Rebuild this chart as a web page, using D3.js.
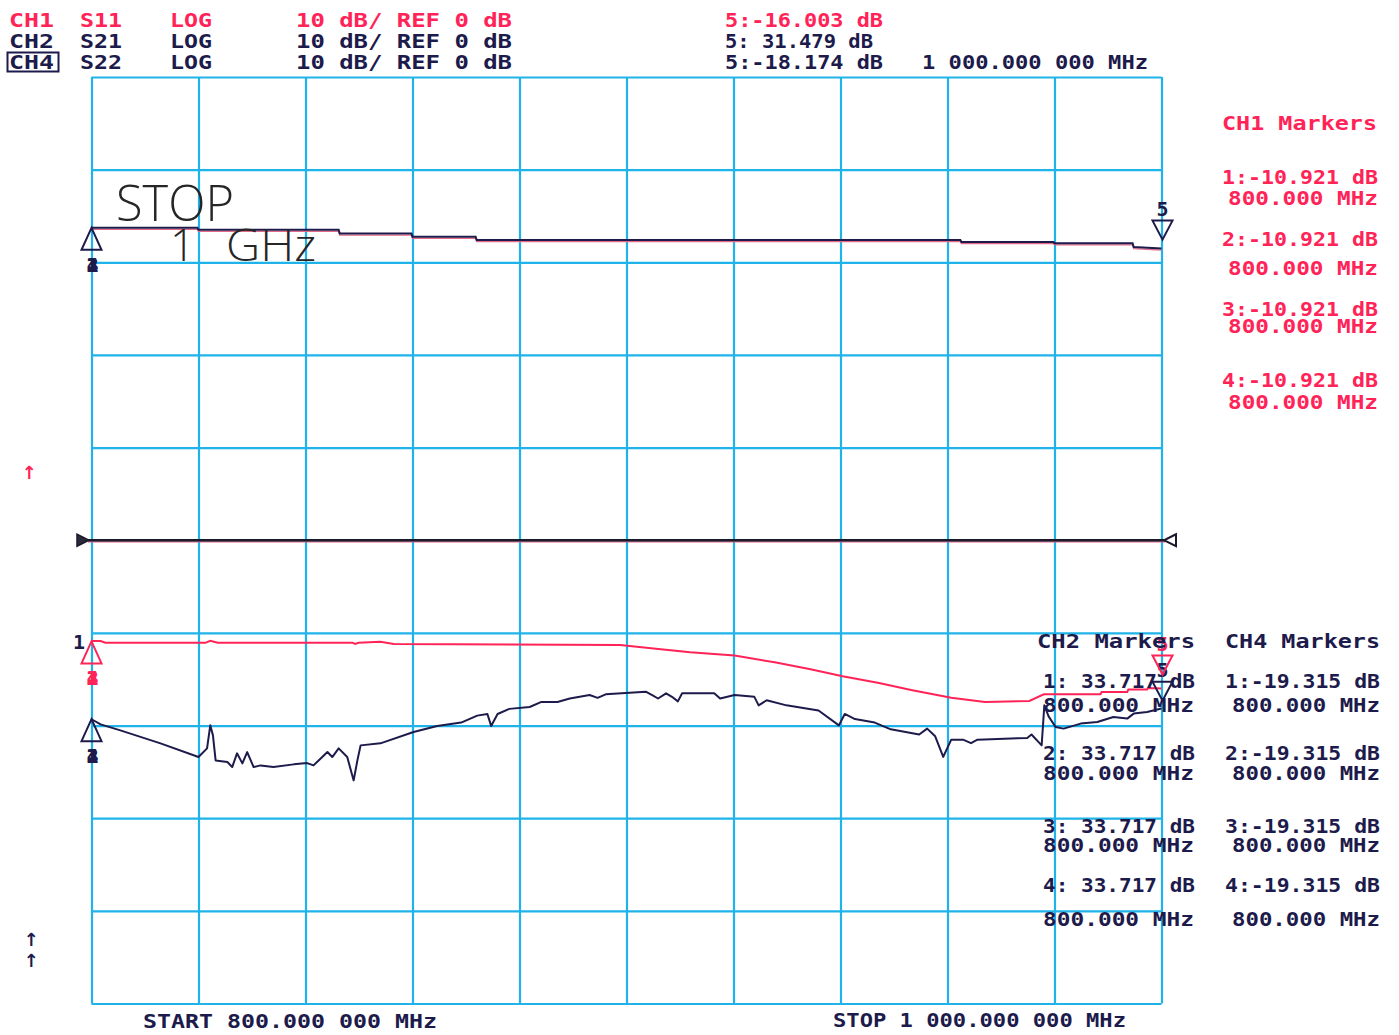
<!DOCTYPE html>
<html><head><meta charset="utf-8">
<script src="https://cdn.jsdelivr.net/npm/d3@7"></script>
<style>
html,body{margin:0;padding:0;background:#fff;}
svg{display:block;}
.mono{font-family:"DejaVu Sans Mono",monospace;font-weight:bold;font-size:20px;}
</style></head><body>
<svg id="c" width="1399" height="1035"></svg>
<script>
// ---------------- data ----------------
const freqRange = [800, 1000];               // MHz, START / STOP
const dbRange = [-50, 50];                   // 10 dB/div, REF 0 dB at centre
const xTickValues = [800, 820, 840, 860, 880, 900, 920, 940, 960, 980, 1000];
const yTickValues = [-50, -40, -30, -20, -10, 0, 10, 20, 30, 40, 50];

const channels = ["CH1", "CH2", "CH4"];
const params = ["S11", "S21", "S22"];
const formats = ["LOG", "LOG", "LOG"];
const scalesDb = [10, 10, 10];
const refsDb = [0, 0, 0];

// CH1 S11
const s11Freq = [800, 801.7, 802.6, 821.3, 822.2, 823.6, 848.8, 849.3, 849.9, 854.0, 856.5, 898.8, 905.5, 911.9, 920.2, 927.7, 934.4, 940.4, 947.2, 953.2, 960.7, 967.0, 975.3, 978.0, 988.6, 988.8, 993.6, 993.8, 997.3, 997.5, 1000];
const s11Db = [-10.88, -10.88, -11.07, -11.07, -10.85, -11.07, -11.07, -11.18, -11.07, -10.96, -11.2, -11.3, -11.71, -12.08, -12.45, -13.17, -13.93, -14.68, -15.41, -16.16, -17.01, -17.45, -17.35, -16.63, -16.63, -16.38, -16.38, -16.12, -16.12, -15.95, -16.0];
// CH2 S21
const s21Freq = [800, 819.8, 820.0, 846.2, 846.4, 859.8, 860.0, 871.8, 872.0, 962.4, 962.6, 979.8, 980.0, 994.6, 994.8, 1000];
const s21Db = [33.72, 33.72, 33.5, 33.5, 33.1, 33.1, 32.75, 32.75, 32.4, 32.4, 32.2, 32.2, 32.05, 32.05, 31.65, 31.48];
// CH4 S22
const s22Freq = [800.0, 801.7, 805.4, 812.9, 820.0, 821.6, 822.2, 822.7, 823.2, 825.4, 826.3, 827.2, 828.2, 829.1, 830.3, 831.6, 834.0, 837.8, 840.3, 841.5, 844.1, 845.0, 846.2, 847.8, 849.0, 849.7, 850.3, 854.0, 860.2, 864.6, 869.1, 872.1, 874.0, 874.7, 875.9, 878.1, 881.9, 884.1, 887.1, 889.4, 893.1, 894.6, 896.1, 903.6, 904.8, 905.9, 907.4, 908.5, 909.6, 910.4, 916.4, 917.5, 920.2, 923.9, 924.7, 926.2, 929.9, 935.9, 939.7, 940.8, 942.7, 946.4, 949.4, 954.7, 956.2, 957.7, 959.2, 960.7, 962.9, 964.4, 965.6, 974.9, 975.7, 977.6, 978.1, 978.9, 980.2, 981.7, 984.9, 988.0, 991.0, 993.6, 994.8, 997.3, 1000];
const s22Db = [-19.32, -19.87, -20.52, -21.92, -23.40, -22.46, -19.98, -21.06, -23.76, -23.94, -24.48, -23.00, -24.08, -22.86, -24.48, -24.30, -24.48, -24.19, -24.05, -24.30, -22.86, -23.40, -22.46, -23.40, -25.92, -23.76, -22.14, -21.92, -20.70, -20.04, -19.68, -18.93, -18.75, -20.04, -18.75, -18.20, -18.00, -17.45, -17.45, -17.08, -16.71, -17.01, -16.63, -16.34, -16.71, -17.08, -16.52, -16.90, -17.39, -16.52, -16.52, -17.08, -16.71, -16.90, -17.82, -17.27, -17.82, -18.38, -19.98, -18.75, -19.30, -19.68, -20.41, -20.97, -20.33, -21.16, -23.38, -21.52, -21.52, -21.90, -21.52, -21.34, -20.97, -22.14, -17.82, -19.01, -20.16, -20.33, -19.79, -19.62, -19.08, -19.25, -18.71, -18.54, -18.17];

// markers
const markerFreq = [800, 800, 800, 800];
const ch1MarkerDb = [-10.921, -10.921, -10.921, -10.921];
const ch2MarkerDb = [33.717, 33.717, 33.717, 33.717];
const ch4MarkerDb = [-19.315, -19.315, -19.315, -19.315];
const marker5Freq = 1000;
const marker5Db = [-16.003, 31.479, -18.174];
const stopLabel = ["STOP", "1", "GHz"];

// ---------------- drawing ----------------
const RED = "#ff2357", DARK = "#1d1b4b", CYAN = "#1fb3ea";
const svg = d3.select("#c");
const x = d3.scaleLinear().domain(freqRange).range([91.5, 1161.5]);
const y = d3.scaleLinear().domain(dbRange).range([1003.5, 77]);

// grid
const gx = svg.append("g").attr("transform", `translate(0,${y(dbRange[1])})`)
  .call(d3.axisBottom(x).tickValues(xTickValues).tickSize(y(dbRange[0]) - y(dbRange[1])).tickFormat(""));
const gy = svg.append("g").attr("transform", `translate(${x(freqRange[0])},0)`)
  .call(d3.axisRight(y).tickValues(yTickValues).tickSize(x(freqRange[1]) - x(freqRange[0])).tickFormat(""));
[gx, gy].forEach(g => {
  g.select(".domain").remove();
  g.selectAll("line").attr("stroke", CYAN).attr("stroke-width", 2.2);
});

const line = d3.line().x(d => x(d[0])).y(d => y(d[1]));
const zip = (f, v) => f.map((d, i) => [d, v[i]]);

// reference line at REF position
const y0 = y(refsDb[0]);
svg.append("line").attr("x1", 88).attr("x2", 1165).attr("y1", y0 + 1.6).attr("y2", y0 + 1.6).attr("stroke", "#e0607a").attr("stroke-width", 1.4);
svg.append("line").attr("x1", 88).attr("x2", 1165).attr("y1", y0).attr("y2", y0).attr("stroke", "#1a1a2a").attr("stroke-width", 2.4);
svg.append("path").attr("d", `M77,${y0 - 6}L89,${y0}L77,${y0 + 6}Z`).attr("fill", "#2a2a3a").attr("stroke", "#1a1a2a").attr("stroke-width", 1.5);
svg.append("path").attr("d", `M1176,${y0 - 6}L1164,${y0}L1176,${y0 + 6}Z`).attr("fill", "none").attr("stroke", "#1a1a2a").attr("stroke-width", 2);

// traces
svg.append("path").datum(zip(s21Freq, s21Db)).attr("d", line).attr("transform", "translate(0,1.6)")
  .attr("fill", "none").attr("stroke", "#e46a88").attr("stroke-width", 1.3);
svg.append("path").datum(zip(s21Freq, s21Db)).attr("d", line)
  .attr("fill", "none").attr("stroke", DARK).attr("stroke-width", 2);
svg.append("path").datum(zip(s11Freq, s11Db)).attr("d", line)
  .attr("fill", "none").attr("stroke", RED).attr("stroke-width", 2);
svg.append("path").datum(zip(s22Freq, s22Db)).attr("d", line)
  .attr("fill", "none").attr("stroke", DARK).attr("stroke-width", 2).attr("stroke-linejoin", "round");

// start markers (1-4 coincide at 800 MHz)
function startMarker(v, color) {
  const mx = x(markerFreq[0]), my = y(v);
  svg.append("path").attr("d", `M${mx},${my}L${mx - 10},${my + 22}L${mx + 10},${my + 22}Z`)
    .attr("fill", "none").attr("stroke", color).attr("stroke-width", 2);
  ["1", "2", "3", "4"].forEach(t => svg.append("text").attr("class", "mono").attr("x", mx + 1).attr("y", my + 44)
    .attr("text-anchor", "middle").attr("font-size", 17).attr("fill", color).text(t));
}
startMarker(ch2MarkerDb[0], DARK);
startMarker(ch1MarkerDb[0], RED);
startMarker(ch4MarkerDb[0], DARK);
svg.append("text").attr("class", "mono").attr("x", 73).attr("y", 649).attr("fill", DARK).text("1");

// marker 5 at stop frequency
function endMarker(v, color, off) {
  const mx = x(marker5Freq) + 1, my = y(v) + off;
  svg.append("path").attr("d", `M${mx},${my}L${mx - 10},${my - 19}L${mx + 10},${my - 19}Z`)
    .attr("fill", "none").attr("stroke", color).attr("stroke-width", 2);
  svg.append("text").attr("class", "mono").attr("x", mx).attr("y", my - 24).attr("text-anchor", "middle")
    .attr("font-size", 17).attr("fill", color).text("5");
}
endMarker(marker5Db[1], DARK, -9);
endMarker(marker5Db[2], DARK, -8);
endMarker(marker5Db[0], RED, -14);

// STOP 1 GHz annotation
const big = svg.append("g").attr("fill", "#262626").style("font-family", "'Open Sans', 'DejaVu Sans', sans-serif").style("font-weight", 300);
big.append("text").attr("x", 116).attr("y", 221).attr("font-size", 49).attr("textLength", 118).attr("lengthAdjust", "spacingAndGlyphs").text(stopLabel[0]);
big.append("text").attr("x", 170).attr("y", 261).attr("font-size", 44).text(stopLabel[1]);
big.append("text").attr("x", 226).attr("y", 261).attr("font-size", 44).attr("textLength", 90).attr("lengthAdjust", "spacingAndGlyphs").text(stopLabel[2]);

// text helpers
function txt(s, x0, x1, base, color) {
  svg.append("text").attr("class", "mono").attr("x", x0).attr("y", base).attr("fill", color)
    .attr("textLength", x1 - x0).attr("lengthAdjust", "spacingAndGlyphs").text(s);
}
const fmtDb = (i, v) => `${i}:${v < 0 ? "-" : " "}${Math.abs(v).toFixed(3)} dB`;
const fmtMHz = v => `${v.toFixed(3)} MHz`;
const fmtLong = v => {
  const [ip, fp] = v.toFixed(6).split(".");
  return ip.replace(/\B(?=(\d{3})+(?!\d))/g, " ") + "." + fp.slice(0, 3) + " " + fp.slice(3) + " MHz";
};

// header
const rowBase = [27, 48, 69];
const rowColor = [RED, DARK, DARK];
channels.forEach((c, i) => {
  txt(c, 9, 54, rowBase[i], rowColor[i]);
  txt(params[i], 80, 122, rowBase[i], rowColor[i]);
  txt(formats[i], 170, 212, rowBase[i], rowColor[i]);
  txt(`${scalesDb[i]} dB/ REF ${refsDb[i]} dB`, 296, 512, rowBase[i], rowColor[i]);
  txt(fmtDb(5, marker5Db[i]), 725, i === 1 ? 873 : 883, rowBase[i], rowColor[i]);
});
svg.append("rect").attr("x", 7.5).attr("y", 52.5).attr("width", 51).attr("height", 19).attr("fill", "none").attr("stroke", DARK).attr("stroke-width", 2);
txt(fmtLong(marker5Freq), 922, 1148, 69, DARK);

// marker panels
const ch1Rows = [[184, 205], [246, 275], [316, 333], [387, 409]];
txt("CH1 Markers", 1222, 1377, 130, RED);
ch1MarkerDb.forEach((v, i) => {
  txt(fmtDb(i + 1, v), 1222, 1378, ch1Rows[i][0], RED);
  txt(fmtMHz(markerFreq[i]), 1228, 1378, ch1Rows[i][1], RED);
});
const lowRows = [[688, 712], [760, 780], [833, 852], [892, 926]];
txt("CH2 Markers", 1037, 1195, 648, DARK);
txt("CH4 Markers", 1225, 1380, 648, DARK);
ch2MarkerDb.forEach((v, i) => {
  txt(fmtDb(i + 1, v), 1043, 1195, lowRows[i][0], DARK);
  txt(fmtMHz(markerFreq[i]), 1043, 1194, lowRows[i][1], DARK);
});
ch4MarkerDb.forEach((v, i) => {
  txt(fmtDb(i + 1, v), 1225, 1380, lowRows[i][0], DARK);
  txt(fmtMHz(markerFreq[i]), 1232, 1380, lowRows[i][1], DARK);
});

// start / stop
txt("START " + fmtLong(freqRange[0]), 143, 437, 1028, DARK);
txt("STOP " + fmtLong(freqRange[1]), 833, 1126, 1027, DARK);

// reference-position arrows
svg.append("text").attr("x", 29).attr("y", 479).attr("text-anchor", "middle").attr("font-size", 18).attr("font-weight", "bold").style("font-family", "DejaVu Sans").attr("fill", RED).text("↑");
svg.append("text").attr("x", 31).attr("y", 946).attr("text-anchor", "middle").attr("font-size", 18).attr("font-weight", "bold").style("font-family", "DejaVu Sans").attr("fill", DARK).text("↑");
svg.append("text").attr("x", 31).attr("y", 967).attr("text-anchor", "middle").attr("font-size", 18).attr("font-weight", "bold").style("font-family", "DejaVu Sans").attr("fill", DARK).text("↑");
</script>
</body></html>
